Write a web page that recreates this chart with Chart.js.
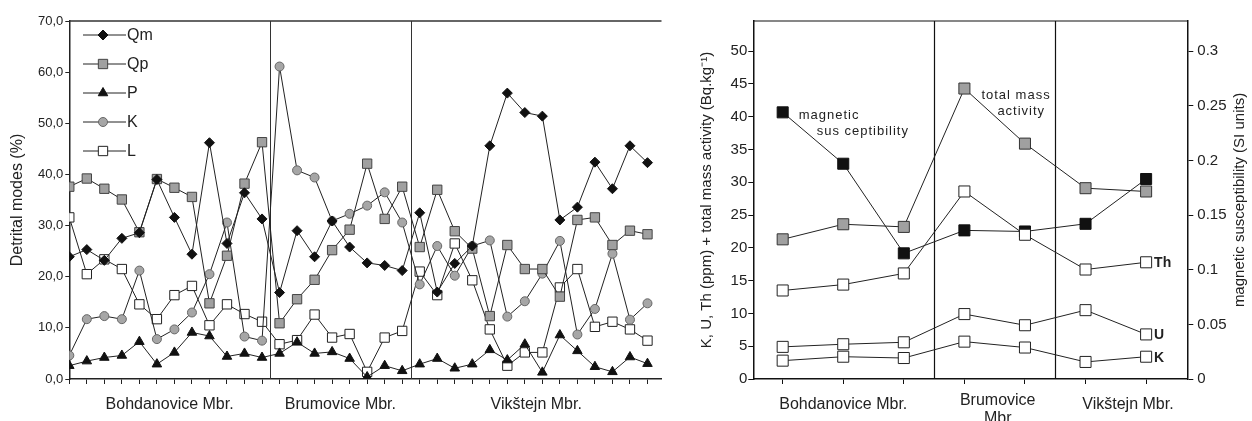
<!DOCTYPE html>
<html>
<head>
<meta charset="utf-8">
<script src="https://cdn.jsdelivr.net/npm/chart.js@4.4.0/dist/chart.umd.min.js"></script>
<style>
  html, body { margin: 0; padding: 0; background: #fff; }
  #wrap { position: relative; width: 1252px; height: 421px; overflow: hidden; }
  #left { position: absolute; left: 0; top: 0; }
  #right { position: absolute; left: 690px; top: 0; }
</style>
</head>
<body>
<div id="wrap">
  <canvas id="left" width="680" height="421"></canvas>
  <canvas id="right" width="562" height="421"></canvas>
</div>
<script>
// ---- left chart: detrital modes (%) per sample ----
const modeNames = ["Qm", "Qp", "P", "K", "L"];
const qm = [23.9, 25.3, 23.2, 27.5, 28.6, 39.0, 31.6, 24.4, 46.2, 26.5, 36.4, 31.3, 16.9, 29.0, 23.9, 30.9, 25.8, 22.7, 22.2, 21.2, 32.5, 17.0, 22.6, 26.0, 45.6, 55.9, 52.1, 51.4, 31.1, 33.6, 42.4, 37.2, 45.6, 42.3];
const qp = [37.6, 39.2, 37.2, 35.1, 28.7, 39.1, 37.4, 35.6, 14.8, 24.1, 38.2, 46.3, 10.9, 15.6, 19.4, 25.2, 29.2, 42.1, 31.3, 37.6, 25.8, 37.0, 28.9, 25.5, 12.3, 26.2, 21.5, 21.5, 16.1, 31.1, 31.6, 26.2, 29.0, 28.3];
const pl = [2.6, 3.5, 4.2, 4.6, 7.3, 2.9, 5.2, 9.1, 8.4, 4.4, 5.0, 4.2, 5.0, 7.2, 5.0, 5.3, 4.0, 0.4, 2.6, 1.6, 2.9, 4.0, 2.1, 2.9, 5.7, 3.7, 6.8, 1.3, 8.6, 5.5, 2.4, 1.4, 4.3, 3.0];
const kf = [4.6, 11.7, 12.3, 11.7, 21.2, 7.8, 9.7, 13.0, 20.5, 30.6, 8.3, 7.5, 61.1, 40.8, 39.4, 30.9, 32.3, 33.9, 36.5, 30.6, 18.5, 26.0, 20.2, 26.0, 27.1, 12.2, 15.2, 20.6, 27.0, 8.7, 13.7, 24.5, 11.6, 14.8];
const lith = [31.6, 20.5, 23.4, 21.5, 14.6, 11.7, 16.4, 18.2, 10.5, 14.6, 12.7, 11.2, 6.8, 7.6, 12.6, 8.1, 8.8, 1.4, 8.1, 9.4, 21.0, 16.4, 26.5, 19.3, 9.7, 2.6, 5.2, 5.2, 17.9, 21.5, 10.2, 11.2, 9.7, 7.5];
const leftGroups = ["Bohdanovice Mbr.", "Brumovice Mbr.", "Vikštejn Mbr."];
const leftBreaks = [11.45, 19.5];

// ---- right chart: gamma spectrometry + magnetic susceptibility ----
const rightGroups = ["Bohdanovice Mbr.", "Brumovice", "Vikštejn Mbr."];
const rightGroupCenters = [1, 3.55, 5.7];
const rightBreaks = [2.5, 4.5];
const massActivity = [21.3, 23.6, 23.2, 44.3, 35.9, 29.1, 28.6];
const magSus = [0.244, 0.197, 0.115, 0.136, 0.135, 0.142, 0.183];
const thPpm = [13.5, 14.4, 16.1, 28.6, 22.0, 16.7, 17.8];
const uPpm = [4.9, 5.3, 5.6, 9.9, 8.2, 10.5, 6.8];
const kPpm = [2.8, 3.4, 3.2, 5.7, 4.8, 2.6, 3.4];

const FONT = "'Liberation Sans', Arial, sans-serif";
const INK = "#222";
Chart.defaults.font.family = FONT;
Chart.defaults.color = INK;

const xy = arr => arr.map((v, i) => ({ x: i, y: v }));

function marker(ctx, style, r, x, y) {
  ctx.beginPath();
  if (style === "circle") {
    ctx.arc(x, y, r, 0, Math.PI * 2);
  } else if (style === "rect") {
    const s = r * Math.SQRT1_2;
    ctx.rect(x - s, y - s, 2 * s, 2 * s);
  } else if (style === "rectRot") {
    ctx.moveTo(x - r, y); ctx.lineTo(x, y - r); ctx.lineTo(x + r, y); ctx.lineTo(x, y + r);
    ctx.closePath();
  } else if (style === "triangle") {
    ctx.moveTo(x, y - r);
    ctx.lineTo(x + r * 0.866, y + r * 0.5);
    ctx.lineTo(x - r * 0.866, y + r * 0.5);
    ctx.closePath();
  }
  ctx.fill();
  ctx.stroke();
}

function series(label, data, style, radius, fill, edge) {
  return {
    label, data: xy(data),
    borderColor: INK, borderWidth: 1,
    pointStyle: style, pointRadius: radius, pointHoverRadius: radius,
    pointBackgroundColor: fill, pointBorderColor: edge, pointBorderWidth: 1
  };
}

const leftDecor = {
  id: "leftDecor",
  beforeDatasetsDraw(chart) {
    const { ctx, chartArea: a, scales: { x } } = chart;
    ctx.save();
    ctx.strokeStyle = "#333";
    ctx.lineWidth = 1;
    leftBreaks.forEach(b => {
      const px = Math.round(x.getPixelForValue(b)) + 0.5;
      ctx.beginPath(); ctx.moveTo(px, a.top); ctx.lineTo(px, a.bottom); ctx.stroke();
    });
    ctx.lineWidth = 1.5;
    ctx.beginPath(); ctx.moveTo(a.left, a.top); ctx.lineTo(a.right, a.top); ctx.stroke();
    ctx.restore();
  },
  afterDraw(chart) {
    const { ctx, scales: { x } } = chart;
    ctx.save();
    // group names under the axis
    ctx.fillStyle = INK;
    ctx.font = "16px " + FONT;
    ctx.textAlign = "center";
    ctx.textBaseline = "alphabetic";
    const edges = [0, ...leftBreaks, x.max];
    leftGroups.forEach((g, i) => {
      ctx.fillText(g, x.getPixelForValue((edges[i] + edges[i + 1]) / 2), 408.5);
    });
    // legend inside the plot
    ctx.textAlign = "left";
    ctx.textBaseline = "middle";
    chart.data.datasets.forEach((ds, i) => {
      const y = 35 + i * 29;
      ctx.strokeStyle = INK; ctx.lineWidth = 1;
      ctx.beginPath(); ctx.moveTo(83, y); ctx.lineTo(126, y); ctx.stroke();
      ctx.fillStyle = ds.pointBackgroundColor;
      ctx.strokeStyle = ds.pointBorderColor;
      marker(ctx, ds.pointStyle, ds.pointRadius, 103, y);
      ctx.fillStyle = INK;
      ctx.fillText(ds.label, 127, y + 1);
    });
    ctx.restore();
  }
};

new Chart(document.getElementById("left").getContext("2d"), {
  type: "line",
  data: {
    datasets: [
      series(modeNames[0], qm, "rectRot", 5, "#111", "#111"),
      series(modeNames[1], qp, "rect", 6.6, "#a0a0a0", "#444"),
      series(modeNames[2], pl, "triangle", 5.5, "#111", "#111"),
      series(modeNames[3], kf, "circle", 4.5, "#a6a6a6", "#666"),
      series(modeNames[4], lith, "rect", 6.6, "#fff", "#222")
    ]
  },
  options: {
    responsive: false,
    animation: false,
    events: [],
    layout: { padding: { top: 21, right: 18.5, bottom: 0, left: 0 } },
    plugins: { legend: { display: false }, tooltip: { enabled: false } },
    scales: {
      x: {
        type: "linear", min: 0, max: 33.8,
        afterFit(s) { s.height = 42; },
        ticks: { stepSize: 1, includeBounds: false, autoSkip: false, callback: () => "" },
        grid: { drawOnChartArea: false, tickLength: 5, color: INK },
        border: { color: INK, width: 1.5 }
      },
      y: {
        min: 0, max: 70,
        afterFit(s) { s.width = 69.3; },
        ticks: { stepSize: 10, font: { size: 13 }, padding: 2, callback: v => v.toFixed(1).replace(".", ",") },
        grid: { drawOnChartArea: false, tickLength: 4, color: INK },
        border: { color: INK, width: 1.5 },
        title: { display: true, text: "Detrital modes (%)", font: { size: 16 }, padding: { top: 8, bottom: 0 } }
      }
    }
  },
  plugins: [leftDecor]
});

const rightDecor = {
  id: "rightDecor",
  beforeDatasetsDraw(chart) {
    const { ctx, chartArea: a, scales: { x } } = chart;
    ctx.save();
    ctx.strokeStyle = "#111";
    ctx.lineWidth = 1.2;
    rightBreaks.forEach(b => {
      const px = Math.round(x.getPixelForValue(b)) + 0.5;
      ctx.beginPath(); ctx.moveTo(px, a.top); ctx.lineTo(px, a.bottom); ctx.stroke();
    });
    ctx.beginPath(); ctx.moveTo(a.left, a.top); ctx.lineTo(a.right, a.top); ctx.stroke();
    ctx.restore();
  },
  afterDraw(chart) {
    const { ctx, chartArea: a, scales: { x, y, y2 } } = chart;
    ctx.save();
    ctx.fillStyle = INK;
    ctx.font = "16px " + FONT;
    ctx.textAlign = "center";
    rightGroups.forEach((g, i) => {
      ctx.fillText(g, x.getPixelForValue(rightGroupCenters[i]), i === 1 ? 404.5 : 408.5);
    });
    ctx.fillText("Mbr", x.getPixelForValue(rightGroupCenters[1]), 423);
    // series names at the last sample
    ctx.font = "bold 14px " + FONT;
    ctx.textAlign = "left";
    ctx.textBaseline = "middle";
    const last = thPpm.length - 1;
    [["Th", thPpm], ["U", uPpm], ["K", kPpm]].forEach(([n, arr]) => {
      ctx.fillText(n, x.getPixelForValue(last) + 8, y.getPixelForValue(arr[last]) + 1);
    });
    // curve annotations
    ctx.font = "13px " + FONT;
    ctx.textBaseline = "alphabetic";
    if ("letterSpacing" in ctx) ctx.letterSpacing = "1px";
    const mx = x.getPixelForValue(0), my = y2.getPixelForValue(magSus[0]);
    ctx.fillText("magnetic", mx + 16, my + 7);
    ctx.fillText("sus ceptibility", mx + 34, my + 23);
    const tx = x.getPixelForValue(3), ty = y.getPixelForValue(massActivity[3]);
    ctx.fillText("total mass", tx + 17, ty + 10);
    ctx.fillText("activity", tx + 33, ty + 26);
    if ("letterSpacing" in ctx) ctx.letterSpacing = "0px";
    // right axis title, read bottom-to-top
    ctx.font = "15px " + FONT;
    ctx.textAlign = "center";
    ctx.textBaseline = "middle";
    ctx.translate(chart.width - 12, (a.top + a.bottom) / 2);
    ctx.rotate(-Math.PI / 2);
    ctx.fillText("magnetic susceptibility (SI units)", 0, 0);
    ctx.restore();
  }
};

new Chart(document.getElementById("right").getContext("2d"), {
  type: "line",
  data: {
    datasets: [
      series("K", kPpm, "rect", 7.8, "#fff", "#222"),
      series("U", uPpm, "rect", 7.8, "#fff", "#222"),
      series("Th", thPpm, "rect", 7.8, "#fff", "#222"),
      Object.assign(series("magnetic susceptibility", magSus, "rect", 7.8, "#111", "#111"), { yAxisID: "y2" }),
      series("total mass activity", massActivity, "rect", 7.8, "#a0a0a0", "#333")
    ]
  },
  options: {
    responsive: false,
    animation: false,
    events: [],
    layout: { padding: { top: 21, right: 0, bottom: 0, left: 0 } },
    plugins: { legend: { display: false }, tooltip: { enabled: false } },
    scales: {
      x: {
        type: "linear", min: -0.485, max: 6.68,
        afterFit(s) { s.height = 42; },
        ticks: { stepSize: 1, includeBounds: false, autoSkip: false, callback: () => "" },
        grid: { drawOnChartArea: false, tickLength: 5, color: "#111" },
        border: { color: "#111", width: 1.5 }
      },
      y: {
        position: "left", min: 0, max: 54.6,
        afterFit(s) { s.width = 63.3; },
        ticks: { stepSize: 5, includeBounds: false, font: { size: 15 }, padding: 1 },
        grid: { drawOnChartArea: false, tickLength: 5, color: "#111" },
        border: { color: "#111", width: 1.5 },
        title: { display: true, text: "K, U, Th (ppm) + total mass activity (Bq.kg⁻¹)", font: { size: 15 }, padding: { top: 8, bottom: 0 } }
      },
      y2: {
        position: "right", min: 0, max: 0.3276,
        afterFit(s) { s.width = 64.7; },
        ticks: { stepSize: 0.05, includeBounds: false, font: { size: 15 }, padding: 4, callback: v => String(+v.toFixed(2)) },
        grid: { drawOnChartArea: false, tickLength: 6, color: "#111" },
        border: { color: "#111", width: 1.5 }
      }
    }
  },
  plugins: [rightDecor]
});
</script>
</body>
</html>
